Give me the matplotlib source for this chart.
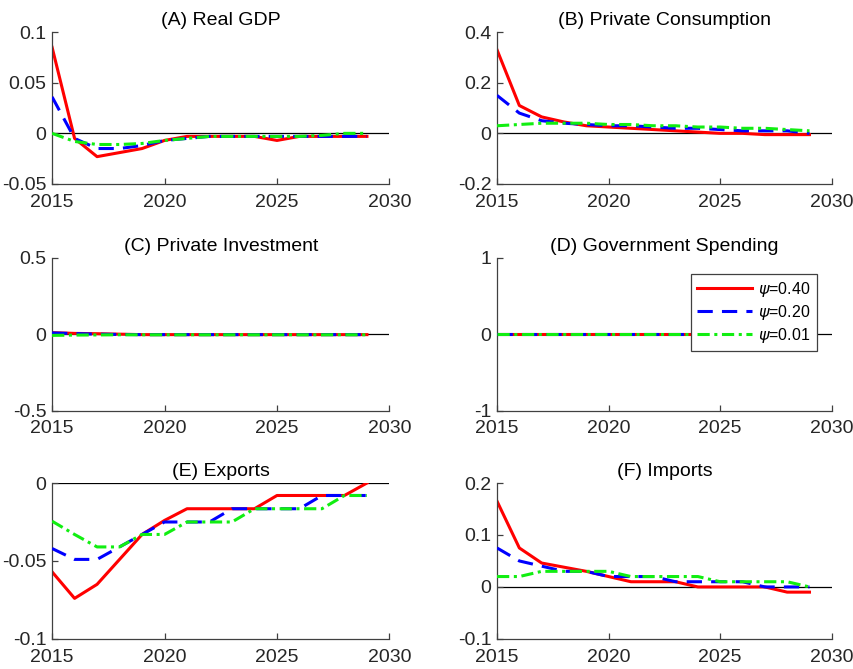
import numpy as np
import matplotlib
matplotlib.use("Agg")
import matplotlib.pyplot as plt

plt.rcParams['font.family'] = ['Liberation Sans', 'DejaVu Sans']
plt.rcParams['mathtext.fontset'] = 'dejavusans'

years = np.arange(2015, 2030)

# (A) Real GDP
gdp_40 = [0.085, -0.005, -0.023, -0.019, -0.015, -0.007, -0.003, -0.003, -0.003, -0.003, -0.007, -0.003, -0.003, -0.003, -0.003]
gdp_20 = [0.036, -0.005, -0.015, -0.015, -0.012, -0.007, -0.005, -0.003, -0.003, -0.003, -0.003, -0.003, -0.003, -0.003, -0.003]
gdp_01 = [0.0, -0.008, -0.011, -0.011, -0.010, -0.007, -0.005, -0.003, -0.003, -0.003, -0.003, -0.003, -0.002, 0.0, 0.0]

# (B) Private Consumption
cons_40 = [0.33, 0.11, 0.065, 0.045, 0.03, 0.025, 0.02, 0.015, 0.01, 0.005, 0.0, 0.0, -0.005, -0.005, -0.005]
cons_20 = [0.15, 0.08, 0.05, 0.04, 0.035, 0.03, 0.03, 0.025, 0.02, 0.02, 0.015, 0.01, 0.01, 0.01, 0.0]
cons_01 = [0.03, 0.035, 0.04, 0.04, 0.04, 0.035, 0.035, 0.03, 0.03, 0.025, 0.025, 0.02, 0.02, 0.015, 0.01]

# (C) Private Investment
inv_40 = [0.01, 0.005, 0.003, 0.0, -0.003, -0.003, -0.003, -0.003, -0.003, -0.003, -0.003, -0.003, -0.003, -0.003, -0.003]
inv_20 = [0.008, 0.004, 0.0, -0.002, -0.003, -0.003, -0.003, -0.003, -0.003, -0.003, -0.003, -0.003, -0.003, -0.003, -0.003]
inv_01 = [-0.008, -0.006, -0.005, -0.004, -0.004, -0.004, -0.004, -0.004, -0.004, -0.004, -0.004, -0.004, -0.004, -0.004, -0.004]

# (D) Government Spending
gov_40 = [0.0] * 15
gov_20 = [0.0] * 15
gov_01 = [0.0] * 15

# (E) Exports
exp_40 = [-0.057, -0.074, -0.065, -0.049, -0.033, -0.024, -0.0165, -0.0165, -0.0165, -0.0165, -0.008, -0.008, -0.008, -0.008, 0.0]
exp_20 = [-0.042, -0.049, -0.049, -0.041, -0.033, -0.025, -0.025, -0.025, -0.0165, -0.0165, -0.0165, -0.0165, -0.008, -0.008, -0.008]
exp_01 = [-0.0245, -0.033, -0.041, -0.041, -0.033, -0.033, -0.025, -0.025, -0.025, -0.0165, -0.0165, -0.0165, -0.0165, -0.008, -0.008]

# (F) Imports
imp_40 = [0.165, 0.075, 0.046, 0.038, 0.03, 0.02, 0.01, 0.01, 0.01, 0.0, 0.0, 0.0, 0.0, -0.01, -0.01]
imp_20 = [0.075, 0.05, 0.04, 0.03, 0.03, 0.02, 0.02, 0.02, 0.01, 0.01, 0.01, 0.01, 0.0, 0.0, 0.0]
imp_01 = [0.02, 0.02, 0.03, 0.03, 0.03, 0.03, 0.02, 0.02, 0.02, 0.02, 0.01, 0.01, 0.01, 0.01, 0.0]

titles = ['(A) Real GDP', '(B) Private Consumption', '(C) Private Investment',
          '(D) Government Spending', '(E) Exports', '(F) Imports']
series = [(gdp_40, gdp_20, gdp_01), (cons_40, cons_20, cons_01), (inv_40, inv_20, inv_01),
          (gov_40, gov_20, gov_01), (exp_40, exp_20, exp_01), (imp_40, imp_20, imp_01)]
ylims = [(-0.05, 0.1), (-0.2, 0.4), (-0.5, 0.5), (-1, 1), (-0.1, 0), (-0.1, 0.2)]
yticks = [[-0.05, 0, 0.05, 0.1], [-0.2, 0, 0.2, 0.4], [-0.5, 0, 0.5],
          [-1, 0, 1], [-0.1, -0.05, 0], [-0.1, 0, 0.1, 0.2]]
yticklabels = [['-0.05', '0', '0.05', '0.1'], ['-0.2', '0', '0.2', '0.4'], ['-0.5', '0', '0.5'],
               ['-1', '0', '1'], ['-0.1', '-0.05', '0'], ['-0.1', '0', '0.1', '0.2']]
labels = [r'$\psi$=0.40', r'$\psi$=0.20', r'$\psi$=0.01']

fig = plt.figure(figsize=(8.54, 6.69), dpi=100)

lefts = [0.061, 0.582]
widths = [0.395, 0.392]
bottoms = [0.725, 0.386, 0.045]
heights = [0.227, 0.229, 0.233]

axes = []
for i in range(6):
    r, c = divmod(i, 2)
    ax = fig.add_axes([lefts[c], bottoms[r], widths[c], heights[r]])
    axes.append(ax)
    s40, s20, s01 = series[i]
    ax.axhline(0, color='black', lw=0.9, zorder=1)
    ax.plot(years, s40, color='#ff0000', lw=2.2, ls='-', label=labels[0], zorder=2)
    ax.plot(years, s20, color='#0000ff', lw=2.2, ls=(0, (5, 3)), label=labels[1], zorder=3)
    ax.plot(years, s01, color='#11ee11', lw=2.2, ls=(0, (4, 1.5, 1, 1.5)), label=labels[2], zorder=4)
    ax.set_xlim(2015, 2030)
    ax.set_ylim(*ylims[i])
    ax.set_xticks([2015, 2020, 2025, 2030])
    ax.set_yticks(yticks[i])
    ax.set_yticklabels(yticklabels[i])
    ax.set_title(titles[i], fontsize=14, pad=5)
    for side in ['top', 'right']:
        ax.spines[side].set_visible(False)
    for side in ['left', 'bottom']:
        ax.spines[side].set_color('#404040')
        ax.spines[side].set_linewidth(0.9)
    ax.tick_params(direction='in', length=4, width=0.9, colors='#404040',
                   labelcolor='#262626', labelsize=14)
    ax.tick_params(axis='x', pad=7)
    ax.tick_params(axis='y', pad=4)

leg = axes[3].legend(loc='upper right', bbox_to_anchor=(0.955, 0.895), borderaxespad=0,
                     fontsize=11.5, fancybox=False, framealpha=1, edgecolor='#404040',
                     handlelength=3.4, labelspacing=0.25, handletextpad=0.4, borderpad=0.4)
leg.get_frame().set_linewidth(0.9)
leg.set_zorder(10)

fig.savefig('out.png', dpi=100)
